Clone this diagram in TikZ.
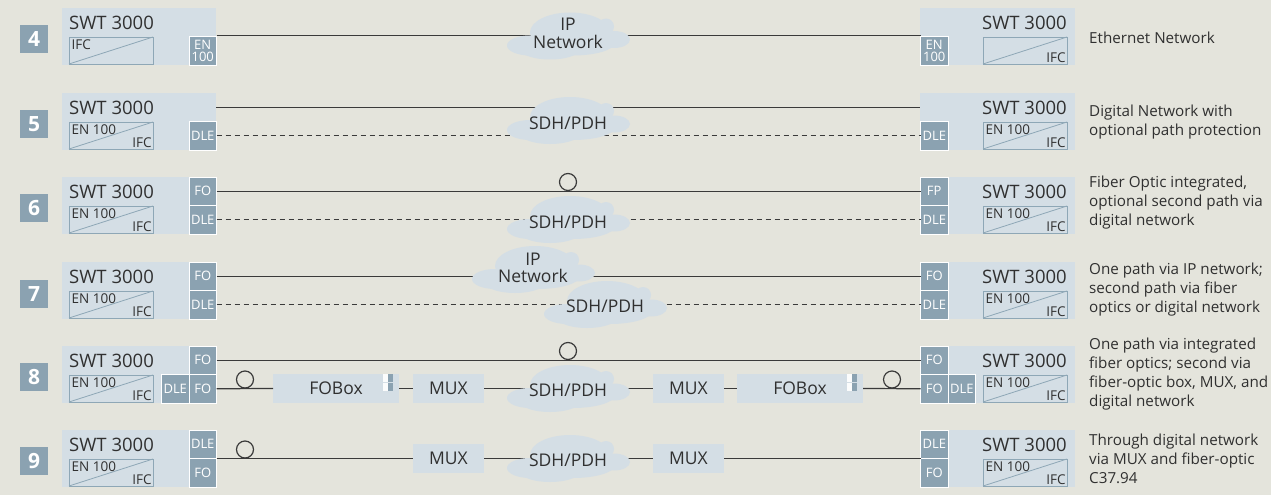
\documentclass[tikz,border=0pt]{standalone}
\usepackage{fontspec}
\setmainfont{Open Sans}
\usetikzlibrary{calc}
\definecolor{bgc}{HTML}{E4E4DC}
\definecolor{lightc}{HTML}{D4DEE5}
\definecolor{darkc}{HTML}{8BA2B1}
\definecolor{edgec}{HTML}{8EA7B6}
\definecolor{txtc}{HTML}{303030}
\definecolor{linec}{HTML}{3A3A3A}
\tikzset{
 mainbox/.style={fill=lightc, inner sep=0pt, outer sep=0pt, minimum height=57pt, anchor=north west},
 swtlabel/.style={font=\fontsize{18.5}{18.5}\selectfont, text=txtc, inner sep=0pt},
 ifcbox/.style={draw=edgec, line width=0.9pt, fill=lightc, minimum width=84pt, minimum height=27pt, anchor=north west, inner sep=0pt, outer sep=0pt},
 ifcdiag/.style={draw=edgec, line width=0.8pt},
 ifctl/.style={font=\fontsize{13.5}{13.5}\selectfont, text=txtc, inner sep=2.5pt, anchor=north west},
 ifcbr/.style={font=\fontsize{13.5}{13.5}\selectfont, text=txtc, inner sep=1.2pt, anchor=south east},
 portbox/.style={fill=darkc, draw=white, line width=0.9pt, text=white, font=\fontsize{13}{12.5}\selectfont, inner sep=0pt, outer sep=0pt, minimum width=27.5pt, minimum height=28.5pt, align=center},
 numbox/.style={fill=darkc, text=white, font=\fontsize{21}{21}\selectfont\bfseries, minimum size=28pt, inner sep=0pt, anchor=north west},
 desc/.style={font=\fontsize{15.2}{19}\selectfont, text=txtc, align=left, anchor=west, inner sep=0pt},
 unitbox/.style={fill=lightc, inner sep=0pt, outer sep=0pt, minimum height=29pt, font=\fontsize{17.5}{17.5}\selectfont, text=txtc, anchor=north west},
 conn/.style={draw=linec, line width=1.2pt},
 dconn/.style={conn, dash pattern=on 5pt off 4pt},
 ring/.style={circle, draw=linec, line width=1.2pt, minimum size=17pt, inner sep=0pt, outer sep=0pt, anchor=south},
 cloudtext/.style={font=\fontsize{17.5}{17.5}\selectfont, text=txtc, align=center, inner sep=0pt},
 cloudshape/.pic={
   \fill[lightc] (2,-4) ellipse [x radius=40pt, y radius=20pt];
   \fill[lightc] (38,-10) circle [radius=8pt];
   \fill[lightc] (-38,9) ellipse [x radius=23pt, y radius=10pt];
   \fill[lightc] (-18,14) ellipse [x radius=28pt, y radius=9pt];
   \fill[lightc] (46,3) ellipse [x radius=16pt, y radius=8.5pt];
   \fill[lightc] (5,6) ellipse [x radius=42pt, y radius=13pt];
 }
}
% left unit: name, top, top-left text, bottom-right text
\newcommand\swtunitL[4]{%
  \node[mainbox, minimum width=154pt] (#1) at (62,#2) {};
  \node[swtlabel, anchor=base west] (#1t) at (69,#2+21.5) {SWT 3000};
  \node[ifcbox] (#1i) at (69,#2+29) {};
  \draw[ifcdiag] (#1i.south west) -- (#1i.north east);
  \if\relax\detokenize{#3}\relax\else\node[ifctl] (#1e) at (#1i.north west) {#3};\fi
  \if\relax\detokenize{#4}\relax\else\node[ifcbr] (#1f) at (#1i.south east) {#4};\fi
}
\newcommand\swtunitR[4]{%
  \node[mainbox, minimum width=155pt] (#1) at (920,#2) {};
  \node[swtlabel, anchor=base east] (#1t) at (1067,#2+21.5) {SWT 3000};
  \node[ifcbox] (#1i) at (983,#2+29) {};
  \draw[ifcdiag] (#1i.south west) -- (#1i.north east);
  \if\relax\detokenize{#3}\relax\else\node[ifctl] (#1e) at (#1i.north west) {#3};\fi
  \if\relax\detokenize{#4}\relax\else\node[ifcbr] (#1f) at (#1i.south east) {#4};\fi
}
\newcommand\fomark[1]{%
  \fill[white!90!lightc] ($(#1.north east)+(-16,0)$) rectangle ++(5,7.5);
  \fill[white!90!lightc] ($(#1.north east)+(-16,9)$) rectangle ++(5,8);
  \fill[darkc] ($(#1.north east)+(-11,0)$) rectangle ++(4.5,7.5);
  \fill[darkc] ($(#1.north east)+(-11,9)$) rectangle ++(4.5,8);
}
\begin{document}
\begin{tikzpicture}[x=1pt,y=-1pt]
\fill[bgc] (0,0) rectangle (1271,495);
\useasboundingbox (0,0) rectangle (1271,495);

% number boxes
\node[numbox] (N4) at (20,25) {4};
\node[numbox] (N5) at (20,110) {5};
\node[numbox] (N6) at (20,194) {6};
\node[numbox] (N7) at (20,280) {7};
\node[numbox] (N8) at (20,363) {8};
\node[numbox] (N9) at (20,447) {9};

% ---- row 4
\swtunitL{L4}{8}{IFC}{}
\swtunitR{R4}{8}{}{IFC}
\node[portbox, anchor=north east] (L4a) at (216.5,36.5) {EN\\100};
\node[portbox, anchor=north west] (R4a) at (920.5,36.5) {EN\\100};
% ---- row 5
\swtunitL{L5}{93}{EN 100}{IFC}
\swtunitR{R5}{93}{EN 100}{IFC}
\node[portbox, anchor=north east] (L5b) at (216.5,121.5) {DLE};
\node[portbox, anchor=north west] (R5b) at (920.5,121.5) {DLE};
% ---- row 6
\swtunitL{L6}{177}{EN 100}{IFC}
\swtunitR{R6}{177}{EN 100}{IFC}
\node[portbox, anchor=north east] (L6a) at (216.5,177) {FO};
\node[portbox, anchor=north east] (L6b) at (216.5,205.5) {DLE};
\node[portbox, anchor=north west] (R6a) at (920.5,177) {FP};
\node[portbox, anchor=north west] (R6b) at (920.5,205.5) {DLE};
% ---- row 7
\swtunitL{L7}{262}{EN 100}{IFC}
\swtunitR{R7}{262}{EN 100}{IFC}
\node[portbox, anchor=north east] (L7a) at (216.5,262) {FO};
\node[portbox, anchor=north east] (L7b) at (216.5,290.5) {DLE};
\node[portbox, anchor=north west] (R7a) at (920.5,262) {FO};
\node[portbox, anchor=north west] (R7b) at (920.5,290.5) {DLE};
% ---- row 8
\swtunitL{L8}{346}{EN 100}{IFC}
\swtunitR{R8}{346}{EN 100}{IFC}
\node[portbox, anchor=north east] (L8a) at (216.5,346) {FO};
\node[portbox, anchor=north east] (L8b) at (216.5,374.5) {FO};
\node[portbox, anchor=north east] (L8c) at (189,374.5) {DLE};
\node[portbox, anchor=north west] (R8a) at (920.5,346) {FO};
\node[portbox, anchor=north west] (R8b) at (920.5,374.5) {FO};
\node[portbox, anchor=north west] (R8c) at (948,374.5) {DLE};
\node[unitbox, minimum width=126pt] (F8a) at (273,374) {FOBox};
\node[unitbox, minimum width=71pt] (M8a) at (413,374) {MUX};
\node[unitbox, minimum width=71pt] (M8b) at (653,374) {MUX};
\node[unitbox, minimum width=126pt] (F8b) at (737,374) {FOBox};
\fomark{F8a}
\fomark{F8b}
% ---- row 9
\swtunitL{L9}{430}{EN 100}{IFC}
\swtunitR{R9}{430}{EN 100}{IFC}
\node[portbox, anchor=north east] (L9a) at (216.5,430) {DLE};
\node[portbox, anchor=north east] (L9b) at (216.5,458.5) {FO};
\node[portbox, anchor=north west] (R9a) at (920.5,430) {DLE};
\node[portbox, anchor=north west] (R9b) at (920.5,458.5) {FO};
\node[unitbox, minimum width=71pt] (M9a) at (413,444) {MUX};
\node[unitbox, minimum width=71pt] (M9b) at (653,444) {MUX};

% ---- connectors
\draw[conn] ([yshift=1pt]L4a.north east) -- ([yshift=1pt]R4a.north west);
\draw[conn] ($(L5.north east)+(0,14.5)$) -- ($(R5.north west)+(0,14.5)$);
\draw[dconn] (L5b.east) -- (R5b.west);
\draw[conn] (L6a.east) -- (R6a.west);
\draw[dconn] (L6b.east) -- (R6b.west);
\draw[conn] (L7a.east) -- (R7a.west);
\draw[dconn] (L7b.east) -- (R7b.west);
\draw[conn] (L8a.east) -- (R8a.west);
\draw[conn] (L8b.east) -- (F8a.west);
\draw[conn] (F8a.east) -- (M8a.west);
\draw[conn] (M8a.east) -- (M8b.west);
\draw[conn] (M8b.east) -- (F8b.west);
\draw[conn] (F8b.east) -- (R8b.west);
\draw[conn] (L9a.south east) -- (M9a.west);
\draw[conn] (M9a.east) -- (M9b.west);
\draw[conn] (M9b.east) -- (R9a.south west);

% rings
\node[ring] (O6) at (568,190.5) {};
\node[ring] (O8a) at (568,359.5) {};
\node[ring] (O8b) at (245,388) {};
\node[ring] (O8c) at (892,388) {};
\node[ring] (O9) at (245,458) {};

% clouds
\pic at (568,36.5) {cloudshape};
\pic at (568,121) {cloudshape};
\pic at (568,220) {cloudshape};
\pic at (533,270) {cloudshape};
\pic at (605,305) {cloudshape};
\pic at (568,389) {cloudshape};
\pic at (568,459) {cloudshape};
\node[cloudtext, anchor=south] (C4) at (568,48.5) {IP\\Network};
\node[cloudtext, anchor=base] (C5) at (568,129) {SDH/PDH};
\node[cloudtext, anchor=base] (C6) at (568,228.5) {SDH/PDH};
\node[cloudtext, anchor=south] (C7a) at (533,283) {IP\\Network};
\node[cloudtext, anchor=base] (C7b) at (605,312.7) {SDH/PDH};
\node[cloudtext, anchor=base] (C8) at (568,396.7) {SDH/PDH};
\node[cloudtext, anchor=base] (C9) at (568,466.7) {SDH/PDH};

% descriptions
\node[desc] (D4) at (1089,38) {Ethernet Network};
\node[desc] (D5) at (1089,122) {Digital Network with\\optional path protection};
\node[desc] (D6) at (1089,203) {Fiber Optic integrated,\\optional second path via\\digital network};
\node[desc] (D7) at (1089,290) {One path via IP network;\\second path via fiber\\optics or digital network};
\node[desc] (D8) at (1089,374) {One path via integrated\\fiber optics; second via\\fiber-optic box, MUX, and\\digital network};
\node[desc] (D9) at (1089,459) {Through digital network\\via MUX and fiber-optic\\C37.94};
\end{tikzpicture}
\end{document}
